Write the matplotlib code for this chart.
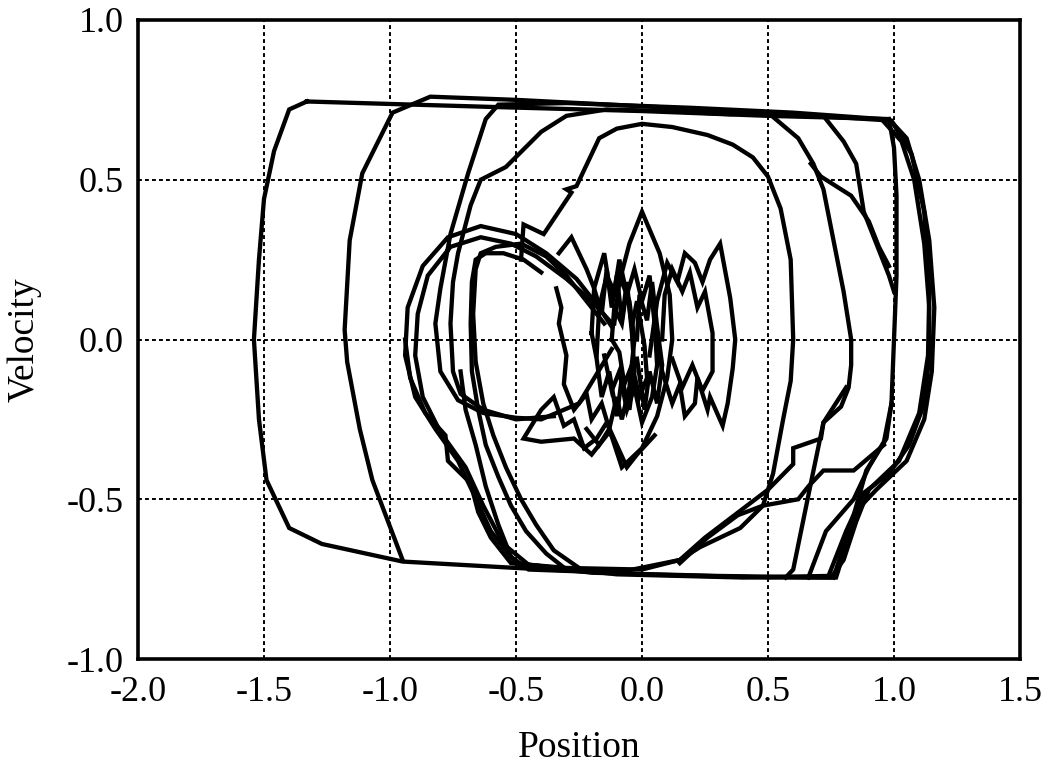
import matplotlib
matplotlib.use("Agg")
import matplotlib.pyplot as plt

# ---- data: trajectory pieces (position, velocity) ----
orbit_outer = [(-1.33,0.745),(-0.99,0.737),(-0.6,0.728),(0.0,0.715),(0.5,0.70),(0.98,0.69),
               (1.05,0.63),(1.10,0.50),(1.14,0.31),(1.16,0.10),(1.15,-0.10),(1.12,-0.25),
               (1.05,-0.38),(0.93,-0.47),(0.87,-0.52),(0.82,-0.62),(0.77,-0.745),(0.5,-0.745),
               (0.0,-0.735),(-0.5,-0.715),(-0.95,-0.695),(-1.27,-0.64),(-1.40,-0.59),(-1.49,-0.44),
               (-1.52,-0.25),(-1.54,0.0),(-1.52,0.25),(-1.50,0.44),(-1.46,0.59),(-1.40,0.72),(-1.33,0.745)]

orbit_second = [(-0.95,-0.69),(-1.07,-0.44),(-1.12,-0.28),(-1.17,-0.07),(-1.18,0.03),(-1.16,0.31),
                (-1.11,0.52),(-0.99,0.71),(-0.84,0.76),(-0.5,0.75),(0.0,0.73),(0.5,0.71),(0.99,0.685),
                (1.07,0.58),(1.12,0.40),(1.14,0.15),(1.135,-0.05),(1.10,-0.23),(1.02,-0.38),
                (0.90,-0.47),(0.85,-0.57),(0.80,-0.69),(0.75,-0.745),(0.3,-0.74),(-0.2,-0.73),
                (-0.5,-0.70),(-0.60,-0.60),(-0.67,-0.48),(-0.73,-0.38),(-0.82,-0.28),(-0.90,-0.18),
                (-0.94,-0.05),(-0.93,0.10),(-0.87,0.23),(-0.77,0.32),(-0.64,0.355),(-0.50,0.33),
                (-0.38,0.27),(-0.26,0.19),(-0.17,0.10),(-0.12,0.04)]

loop_inner_circle = [(-0.12,-0.03),(-0.25,-0.20),(-0.40,-0.25),(-0.50,-0.245),(-0.63,-0.23),
                     (-0.73,-0.19),(-0.80,-0.10),(-0.82,0.05),(-0.80,0.16),(-0.76,0.33),
                     (-0.69,0.52),(-0.62,0.69),(-0.57,0.735),(-0.3,0.74),(0.2,0.725),(0.6,0.71),
                     (0.95,0.69),(1.03,0.62),(1.08,0.50),(1.12,0.30),(1.14,0.10),(1.14,-0.05),
                     (1.12,-0.20),(1.06,-0.33),(0.98,-0.42),(0.88,-0.48),(0.81,-0.60),(0.74,-0.74),
                     (0.4,-0.745),(-0.1,-0.735),(-0.45,-0.705),(-0.55,-0.64),(-0.63,-0.52),
                     (-0.70,-0.40),(-0.80,-0.29),(-0.87,-0.18),(-0.90,-0.05),(-0.89,0.08),
                     (-0.85,0.20),(-0.76,0.29),(-0.64,0.32),(-0.52,0.30),(-0.42,0.26),
                     (-0.30,0.19),(-0.20,0.12),(-0.13,0.06)]

loop_thick_left = [(-0.25,-0.715),(-0.35,-0.66),(-0.42,-0.58),(-0.48,-0.50),(-0.54,-0.40),
                   (-0.59,-0.30),(-0.63,-0.20),(-0.66,-0.07),(-0.67,0.08),(-0.66,0.22),
                   (-0.64,0.27),(-0.58,0.29),(-0.48,0.30),(-0.38,0.26),(-0.30,0.20),
                   (-0.22,0.12),(-0.15,0.05)]

loop_thick_left2 = [(-0.30,-0.72),(-0.38,-0.67),(-0.46,-0.60),(-0.52,-0.52),(-0.57,-0.43),
                    (-0.62,-0.33),(-0.65,-0.22),(-0.675,-0.10),(-0.68,0.05),(-0.675,0.18),
                    (-0.66,0.25),(-0.62,0.27),(-0.55,0.27),(-0.47,0.25),(-0.40,0.21)]

loop_upper_left = [(-0.35,-0.24),(-0.50,-0.25),(-0.63,-0.22),(-0.72,-0.17),(-0.75,-0.10),
                   (-0.76,0.05),(-0.75,0.18),(-0.73,0.27),(-0.68,0.42),(-0.64,0.50),
                   (-0.54,0.54),(-0.40,0.65),(-0.30,0.70),(-0.14,0.72),(0.1,0.715),(0.35,0.705),
                   (0.50,0.71),(0.62,0.63),(0.68,0.55),(0.72,0.47),(0.76,0.31),(0.80,0.15),
                   (0.83,0.0),(0.83,-0.08),(0.82,-0.15),(0.79,-0.21),(0.72,-0.26),(0.71,-0.31),
                   (0.60,-0.34),(0.60,-0.39),(0.55,-0.43),(0.50,-0.47),(0.40,-0.53),(0.25,-0.62),
                   (0.15,-0.69),(-0.1,-0.73),(-0.45,-0.72),(-0.52,-0.68),(-0.57,-0.58),
                   (-0.62,-0.46),(-0.66,-0.33),(-0.70,-0.22),(-0.72,-0.10)]

arch_loop = [(-0.48,0.25),(-0.47,0.36),(-0.39,0.33),(-0.28,0.46),(-0.30,0.47),(-0.26,0.48),
             (-0.17,0.63),(-0.10,0.66),(0.0,0.675),(0.12,0.665),(0.26,0.64),(0.36,0.61),
             (0.44,0.57),(0.50,0.51),(0.55,0.41),(0.59,0.25),(0.60,0.0),(0.59,-0.13),
             (0.56,-0.25),(0.52,-0.42),(0.48,-0.52),(0.39,-0.59),(0.23,-0.65),(0.15,-0.69),
             (0.0,-0.72),(-0.3,-0.715),(-0.52,-0.70),(-0.60,-0.62),(-0.65,-0.54),(-0.68,-0.45),
             (-0.77,-0.38),(-0.78,-0.30),(-0.86,-0.23),(-0.92,-0.12),(-0.94,0.0)]

right_arc_1 = [(0.98,0.69),(1.00,0.60),(1.01,0.45),(1.01,0.20),(1.00,0.0),(0.99,-0.20),
               (0.97,-0.31),(0.89,-0.41),(0.84,-0.55),(0.76,-0.745)]

right_arc_2 = [(0.73,0.69),(0.80,0.62),(0.85,0.55),(0.88,0.40),(0.93,0.30),(0.98,0.20),(1.0,0.15)]

right_arc_3 = [(0.67,0.55),(0.71,0.51),(0.83,0.45),(0.90,0.37),(0.94,0.29),(0.98,0.23)]

right_lower = [(0.81,-0.15),(0.72,-0.26),(0.67,-0.45),(0.60,-0.72),(0.57,-0.745)]

right_lower2 = [(0.66,-0.745),(0.73,-0.60),(0.84,-0.50),(0.90,-0.40),(0.96,-0.32),(0.99,-0.20)]

bottom_diag = [(0.15,-0.70),(0.26,-0.62),(0.38,-0.55),(0.48,-0.52),(0.62,-0.50),(0.66,-0.46),
               (0.72,-0.41),(0.84,-0.41),(0.96,-0.33)]

lens_outer = [(-0.22,-0.28),(-0.17,-0.33),(-0.13,-0.28),(-0.08,-0.40),(0.0,-0.34),(0.06,-0.24),
              (0.10,-0.12),(0.12,0.0),(0.11,0.14),(0.07,0.27),(0.0,0.40),(-0.05,0.30),
              (-0.09,0.18),(-0.11,0.05)]

jag_right = [(0.03,-0.05),(0.06,0.12),(0.10,0.24),(0.14,0.18),(0.17,0.27),(0.21,0.24),
             (0.24,0.18),(0.27,0.25),(0.31,0.30),(0.35,0.13),(0.37,0.0),(0.36,-0.09),
             (0.34,-0.20),(0.32,-0.27),(0.27,-0.18),(0.26,-0.22),(0.22,-0.12),(0.21,-0.20),
             (0.17,-0.24),(0.15,-0.14),(0.12,-0.20),(0.08,-0.10),(0.06,0.0)]

jag_right2 = [(0.08,0.0),(0.09,0.14),(0.12,0.22),(0.16,0.15),(0.19,0.21),(0.22,0.10),
              (0.25,0.15),(0.28,0.02),(0.28,-0.10),(0.24,-0.16),(0.20,-0.08),(0.16,-0.15),
              (0.12,-0.06)]

jag_left = [(-0.34,0.16),(-0.32,0.10),(-0.33,0.05),(-0.30,-0.05),(-0.31,-0.14),(-0.27,-0.22),
            (-0.22,-0.17),(-0.20,-0.25),(-0.16,-0.20),(-0.13,-0.28),(-0.10,-0.18),(-0.08,-0.25),
            (-0.05,-0.15),(-0.03,0.0),(-0.05,0.12),(-0.09,0.20),(-0.12,0.12),(-0.15,0.27),
            (-0.19,0.16),(-0.22,0.22),(-0.28,0.32),(-0.33,0.27)]

jag_mid = [(-0.18,-0.05),(-0.17,0.10),(-0.14,0.20),(-0.11,0.15),(-0.09,0.25),(-0.06,0.14),
           (-0.03,0.22),(0.0,0.12),(0.03,0.20),(0.05,0.05),(0.06,-0.08),(0.04,-0.18),
           (0.0,-0.26),(-0.03,-0.15),(-0.06,-0.22),(-0.09,-0.10),(-0.12,-0.16),(-0.15,-0.05)]

jag_inner = [(-0.12,0.0),(-0.11,0.10),(-0.08,0.05),(-0.06,0.16),(-0.04,0.04),(-0.02,0.12),
             (0.01,-0.02),(0.02,-0.12),(-0.01,-0.18),(-0.04,-0.08),(-0.07,-0.14),(-0.09,-0.04),
             (-0.12,0.0)]

jag_dense1 = [(-0.20,0.02),(-0.19,0.16),(-0.16,0.08),(-0.14,0.22),(-0.12,0.10),(-0.10,0.20),
              (-0.08,0.06),(-0.06,0.18),(-0.04,0.02),(-0.03,-0.10),(-0.05,-0.22),(-0.08,-0.12),
              (-0.10,-0.24),(-0.13,-0.10),(-0.16,-0.18),(-0.18,-0.06),(-0.20,0.02)]

jag_dense2 = [(-0.02,0.0),(-0.01,0.14),(0.02,0.06),(0.04,0.18),(0.06,0.04),(0.08,-0.08),
              (0.06,-0.20),(0.03,-0.10),(0.01,-0.22),(-0.02,-0.06)]

jag_bottom = [(0.05,-0.30),(-0.02,-0.36),(-0.06,-0.40),(-0.10,-0.33),(-0.14,-0.26),(-0.18,-0.31),
              (-0.23,-0.34),(-0.27,-0.25),(-0.31,-0.27),(-0.35,-0.18),(-0.40,-0.22),(-0.47,-0.31),
              (-0.40,-0.32),(-0.27,-0.31),(-0.20,-0.36),(-0.14,-0.30)]

curves = [orbit_outer, orbit_second, loop_inner_circle, loop_thick_left, loop_thick_left2,
          loop_upper_left, arch_loop, right_arc_1, right_arc_2, right_arc_3, right_lower,
          right_lower2, bottom_diag, lens_outer, jag_right, jag_right2, jag_left, jag_mid,
          jag_inner, jag_dense1, jag_dense2, jag_bottom]

x_ticks = [-2.0, -1.5, -1.0, -0.5, 0.0, 0.5, 1.0, 1.5]
y_ticks = [-1.0, -0.5, 0.0, 0.5, 1.0]
x_label = "Position"
y_label = "Velocity"

# ---- drawing ----
plt.rcParams['font.family'] = ['Liberation Serif', 'DejaVu Serif']
fig = plt.figure(figsize=(10.5, 7.73), dpi=100)
ax = fig.add_axes([138/1050, 1-659/773, (1020-138)/1050, (659-20)/773])

for c in curves:
    xs = [p[0] for p in c]
    ys = [p[1] for p in c]
    ax.plot(xs, ys, color='black', lw=3.1, solid_joinstyle='miter', zorder=3)

ax.set_xlim(-2.0, 1.5)
ax.set_ylim(-1.0, 1.0)
ax.set_xticks(x_ticks)
ax.set_yticks(y_ticks)
ax.set_xticklabels([f"{v:.1f}" for v in x_ticks])
ax.set_yticklabels([f"{v:.1f}" for v in y_ticks])
ax.grid(True, color='black', linestyle=(0, (2.0, 1.6)), linewidth=1.4, zorder=1)
ax.tick_params(axis='both', direction='in', length=0, labelsize=26, pad=10)
ax.tick_params(axis='x', pad=12)
for s in ax.spines.values():
    s.set_linewidth(2.6)
ax.set_xlabel(x_label, fontsize=27, labelpad=16)
ax.set_ylabel(y_label, fontsize=27, labelpad=18)

fig.savefig("out.png", dpi=100)
